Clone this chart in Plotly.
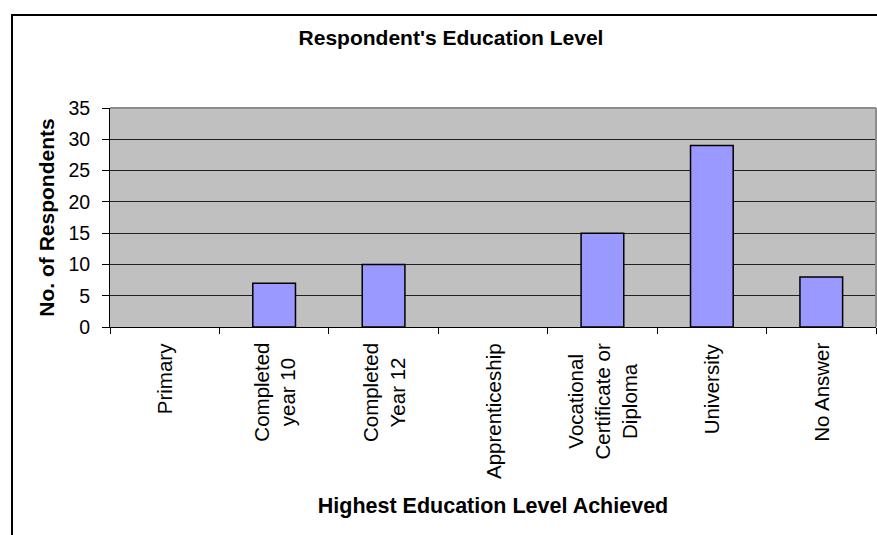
import plotly.graph_objects as go

categories = ["Primary", "Completed<br>year 10", "Completed<br>Year 12", "Apprenticeship",
              "Vocational<br>Certificate or<br>Diploma", "University", "No Answer"]
respondents = [0, 7, 10, 0, 15, 29, 8]
y_ticks = [0, 5, 10, 15, 20, 25, 30, 35]

FONT = "Liberation Sans, Arial, sans-serif"

fig = go.Figure()

fig.add_trace(go.Bar(
    x=categories,
    y=respondents,
    width=0.39,
    marker=dict(color="#9999FF",
                line=dict(color="#000000", width=[0 if v == 0 else 1.5 for v in respondents])),
    hoverinfo="x+y",
))

# x labels as annotations so the wrapped lines stay centred
for cat in categories:
    fig.add_annotation(
        x=cat, xref="x", y=0, yref="paper", yshift=-14,
        text=cat, textangle=-90, showarrow=False,
        xanchor="center", yanchor="top", align="center",
        font=dict(family=FONT, size=20.5, color="#000000"),
    )

fig.update_layout(
    width=877,
    height=535,
    margin=dict(l=110, r=1, t=108, b=208),
    paper_bgcolor="#FFFFFF",
    plot_bgcolor="#C0C0C0",
    showlegend=False,
    font=dict(family=FONT, color="#000000"),
    title=dict(
        text="Respondent's Education Level",
        font=dict(family=FONT, size=21, weight="bold", color="#000000"),
        xref="container", x=451 / 877, xanchor="center",
        yref="container", y=1 - 38 / 535, yanchor="middle",
    ),
    xaxis=dict(
        type="category",
        showticklabels=False,
        ticks="outside", tickson="boundaries", ticklen=6, tickcolor="#000000",
        showline=True, linecolor="#000000", linewidth=1,
        showgrid=False,
        title=dict(text="Highest Education Level Achieved", standoff=170,
                   font=dict(family=FONT, size=21.5, weight="bold")),
    ),
    yaxis=dict(
        range=[0, 35],
        tickvals=y_ticks,
        ticks="outside", ticklen=7, tickcolor="#000000",
        ticklabelstandoff=8,
        tickfont=dict(family=FONT, size=19.5, color="#000000"),
        showline=True, linecolor="#000000", linewidth=1,
        showgrid=True, gridcolor="#202020", gridwidth=1,
        zeroline=False,
        title=dict(text="No. of Respondents", standoff=8,
                   font=dict(family=FONT, size=21, weight="bold")),
    ),
)

# grey border on top and right of the plot area
fig.add_shape(type="line", xref="paper", yref="paper", x0=0, x1=1, y0=1, y1=1,
              line=dict(color="#8C8C8C", width=2), layer="above")
fig.add_shape(type="line", xref="paper", yref="paper", x0=1, x1=1, y0=0, y1=1,
              line=dict(color="#8C8C8C", width=2), layer="above")

# chart area frame (runs off the right and bottom edge like the original)
fig.add_shape(type="rect", xref="paper", yref="paper",
              x0=(12 - 110) / 766, x1=1.05, y0=-1.3, y1=(327 - 15) / 219,
              line=dict(color="#000000", width=2), layer="below")

fig.write_html("out.html", config={"displayModeBar": False},
               post_script="document.body.style.margin='0';document.body.style.overflow='hidden';")
